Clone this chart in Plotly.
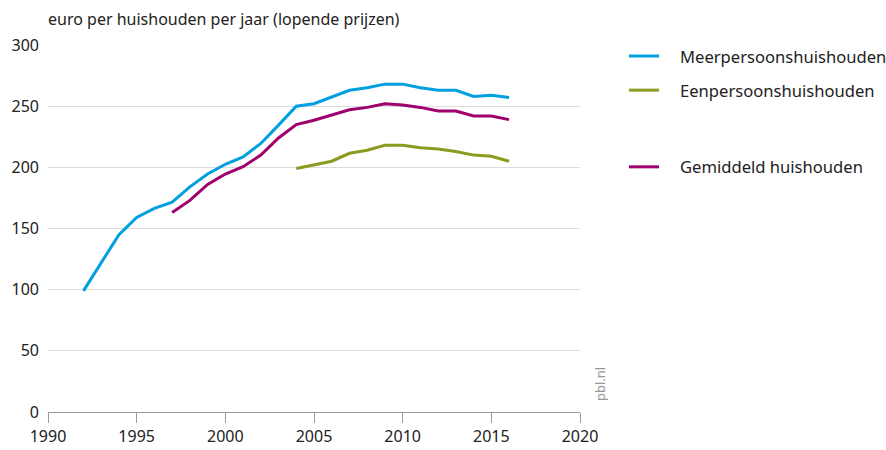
import plotly.graph_objects as go

# Jaarlijkse uitgaven per huishouden (euro, lopende prijzen)
years_meer = list(range(1992, 2017))
meer = [99, 122, 145, 159, 166.5, 171.5, 184, 194.5, 202.5, 208.5, 219.5, 234.5,
        250, 252, 257.5, 263, 265, 268, 268, 265, 263, 263, 258, 259, 257]

years_gem = list(range(1997, 2017))
gemiddeld = [163, 173, 186, 194.5, 200.5, 210, 224, 235, 238.5, 242.5, 247, 249,
             252, 251, 249, 246, 246, 242, 242, 239]

years_een = list(range(2004, 2017))
een = [199, 202, 205, 211.5, 214, 218, 218, 216, 215, 213, 210, 209, 205]

x_ticks = [1990, 1995, 2000, 2005, 2010, 2015, 2020]
y_ticks = [0, 50, 100, 150, 200, 250, 300]

series_names = ["Meerpersoonshuishouden", "Eenpersoonshuishouden", "Gemiddeld huishouden"]
series_colors = ["#00a0e0", "#8c9a22", "#a0006e"]

FONT = "Noto Sans"
TEXT = "#222222"

fig = go.Figure()
for xs, ys, name, color in zip([years_meer, years_een, years_gem],
                               [meer, een, gemiddeld], series_names, series_colors):
    fig.add_trace(go.Scatter(x=xs, y=ys, mode="lines", name=name,
                             line=dict(color=color, width=3), showlegend=False))

# Legenda rechts van de grafiek (met extra ruimte voor het gemiddelde)
legend_rows = [0.970, 0.877, 0.668]
shapes = []
annotations = []
for name, color, yrow in zip(series_names, series_colors, legend_rows):
    shapes.append(dict(type="line", xref="paper", yref="paper",
                       x0=1.092, x1=1.1485, y0=yrow, y1=yrow,
                       line=dict(color=color, width=3)))
    annotations.append(dict(text=name, xref="paper", yref="paper", x=1.184, y=yrow,
                            xanchor="left", yanchor="middle", showarrow=False,
                            font=dict(family=FONT, size=16.6, color=TEXT)))

annotations += [
    dict(text="euro per huishouden per jaar (lopende prijzen)", xref="paper", yref="paper",
         x=0, y=1, xshift=-2, yshift=13, xanchor="left", yanchor="bottom", showarrow=False,
         font=dict(family=FONT, size=16, color=TEXT)),
    dict(text="pbl.nl", xref="paper", yref="paper", x=1.0, y=0.0, xshift=20, yshift=9,
         xanchor="center", yanchor="bottom", textangle=-90, showarrow=False,
         font=dict(family=FONT, size=13, color="#999999")),
]

fig.update_layout(
    width=886, height=450,
    margin=dict(l=48, r=306, t=45, b=38),
    plot_bgcolor="white", paper_bgcolor="white",
    font=dict(family=FONT, size=16, color=TEXT),
    showlegend=False,
    xaxis=dict(range=[1990, 2020], tickvals=x_ticks, ticks="outside", ticklen=10,
               tickcolor="#999999", showgrid=False, showline=True, linecolor="#999999",
               linewidth=1, zeroline=False, tickfont=dict(size=16), automargin=False),
    yaxis=dict(range=[0, 300], tickvals=y_ticks, showgrid=True, gridcolor="#dddddd",
               gridwidth=1, zeroline=False, ticks="", ticklabelstandoff=8,
               tickfont=dict(size=16), automargin=False),
    shapes=shapes,
    annotations=annotations,
)

fig.write_html("out.html")
